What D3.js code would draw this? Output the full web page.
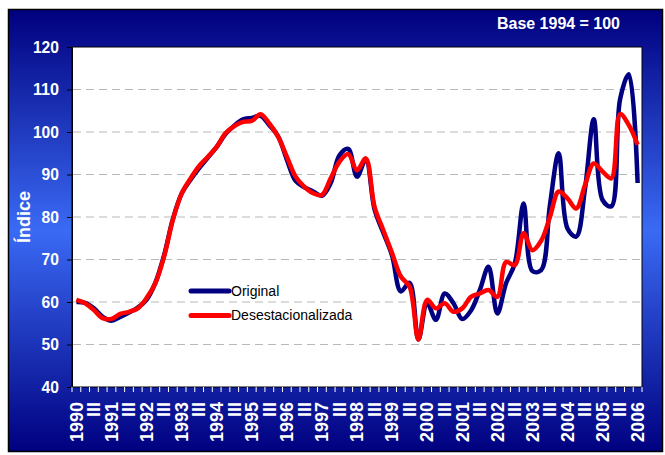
<!DOCTYPE html>
<html>
<head>
<meta charset="utf-8">
<script src="https://d3js.org/d3.v7.min.js"></script>
<style>
  body { margin: 0; background: #fff; }
  text { font-family: "Liberation Sans", Arial, sans-serif; }
</style>
</head>
<body>
<div id="graph"></div>
<script>
var years = [1990, 1991, 1992, 1993, 1994, 1995, 1996, 1997, 1998, 1999,
             2000, 2001, 2002, 2003, 2004, 2005, 2006];
var quarters = ["I", "II", "III", "IV"];

// quarterly values, 1990 I .. 2006 I
var original = [
    60, 59.8, 58.5, 56.5,
    55.6, 56.5, 57.5, 58.7,
    60.5, 64.5, 71, 79.5,
    85.5, 88.7, 91.5, 94,
    96.5, 99.5, 101.5, 103,
    103.3, 103.8, 101.6, 99,
    93.5, 88.5, 87, 86,
    85, 88, 94.5, 96,
    89.5, 93.5, 81.8, 76.3,
    70.9, 62.5, 64.5, 51.2,
    59.7, 55.8, 62, 59.7,
    56, 58, 62.8, 68.3,
    57.3, 64.4, 69.1, 83.2,
    67.3, 67.5, 82.8, 95,
    77.3, 75.4, 86.6, 103,
    84, 82.5, 107.7, 113.6,
    88
];
var desestacionalizada = [
    60.5, 59.7, 58.1, 56.2,
    56, 57.2, 57.7, 58.5,
    60.9, 64.4, 70.7, 79.3,
    85.5, 89, 92, 94.2,
    96.5, 99.7, 101.4, 102.4,
    102.6, 104.2, 102, 98.9,
    94.2, 89.5, 87.1, 85.6,
    85.2, 89.1, 93, 94.8,
    91, 93.8, 82.4, 76.9,
    71.5, 66, 63.6, 51.2,
    60.5, 58.5, 59.7, 57.7,
    58.5, 61.2, 62, 62.8,
    61.2, 69.4, 68.7, 76.2,
    72.2, 74.4, 80, 86,
    84.4, 82, 87.5, 92.6,
    90.7, 89.1, 104.2, 101.6,
    97
];
var yTicks = [40, 50, 60, 70, 80, 90, 100, 110, 120];

var categories = [];
years.forEach(function(yr) {
    quarters.forEach(function(q) {
        if (categories.length < original.length) categories.push({ year: yr, q: q });
    });
});

var width = 665, height = 455;
var margin = { top: 47, right: 23, bottom: 68, left: 72 };

var svg = d3.select("#graph").append("svg")
    .attr("width", width)
    .attr("height", height);

var defs = svg.append("defs");
var grad = defs.append("linearGradient")
    .attr("id", "bg")
    .attr("x1", 0).attr("y1", 0).attr("x2", 0).attr("y2", 1);
grad.append("stop").attr("offset", "0%").attr("stop-color", "#00007e");
grad.append("stop").attr("offset", "50%").attr("stop-color", "#3a6af4");
grad.append("stop").attr("offset", "100%").attr("stop-color", "#000080");

// frame
svg.append("rect")
    .attr("x", 8.5).attr("y", 9.5)
    .attr("width", 654).attr("height", 442)
    .attr("fill", "url(#bg)")
    .attr("stroke", "#000")
    .attr("stroke-width", 1.5);

var x = d3.scaleBand()
    .domain(d3.range(categories.length))
    .range([margin.left, width - margin.right])
    .padding(0);

var y = d3.scaleLinear()
    .domain([40, 120])
    .range([height - margin.bottom, margin.top]);

// plot area
svg.append("rect")
    .attr("x", margin.left).attr("y", margin.top)
    .attr("width", width - margin.left - margin.right)
    .attr("height", height - margin.top - margin.bottom)
    .attr("fill", "#fff")
    .attr("stroke", "#000")
    .attr("stroke-width", 1);

// grid
svg.append("g")
    .selectAll("line")
    .data(yTicks.filter(function(d) { return d > 40 && d < 120; }))
    .enter().append("line")
    .attr("x1", margin.left + 1)
    .attr("x2", width - margin.right - 1)
    .attr("y1", function(d) { return y(d); })
    .attr("y2", function(d) { return y(d); })
    .attr("stroke", "#b8b8b8")
    .attr("stroke-width", 1)
    .attr("stroke-dasharray", "8,5");

// y axis
var yAxis = svg.append("g")
    .attr("transform", "translate(" + margin.left + ",0)")
    .call(d3.axisLeft(y).tickValues(yTicks).tickSize(5).tickPadding(8));
yAxis.select(".domain").attr("stroke", "#000");
yAxis.selectAll(".tick line").attr("stroke", "#000");
yAxis.selectAll(".tick text")
    .attr("fill", "#fff")
    .attr("font-size", "17px")
    .attr("font-weight", "bold")
    .attr("textLength", function(d) { return String(d).length * 8.7; })
    .attr("lengthAdjust", "spacingAndGlyphs");

// x ticks at category boundaries
var xBase = height - margin.bottom;
var bounds = d3.range(categories.length + 1).map(function(i) {
    return i < categories.length ? x(i) : x(i - 1) + x.bandwidth();
});
svg.append("g")
    .selectAll("line")
    .data(bounds)
    .enter().append("line")
    .attr("x1", function(d) { return d; })
    .attr("x2", function(d) { return d; })
    .attr("y1", xBase)
    .attr("y2", xBase + 5)
    .attr("stroke", "#fff")
    .attr("stroke-width", 1);

// x labels
svg.append("g")
    .selectAll("text")
    .data(categories.filter(function(c) { return c.q === "I" || c.q === "III"; }))
    .enter().append("text")
    .attr("transform", function(c) {
        var i = categories.indexOf(c);
        return "translate(" + (x(i) + x.bandwidth() / 2) + "," + (xBase + 15) + ") rotate(-90)";
    })
    .attr("dy", "0.35em")
    .attr("text-anchor", "end")
    .attr("fill", "#fff")
    .attr("font-size", "18px")
    .attr("font-weight", "bold")
    .text(function(c) { return c.q === "I" ? c.year : "III"; });

var line = d3.line()
    .x(function(d, i) { return x(i) + x.bandwidth() / 2; })
    .y(function(d) { return y(d); })
    .curve(d3.curveCatmullRom.alpha(0.5));

svg.append("path")
    .datum(original)
    .attr("d", line)
    .attr("fill", "none")
    .attr("stroke", "#000080")
    .attr("stroke-width", 4.5)
    .attr("stroke-linejoin", "round");

svg.append("path")
    .datum(desestacionalizada)
    .attr("d", line)
    .attr("fill", "none")
    .attr("stroke", "#ff0000")
    .attr("stroke-width", 4.5)
    .attr("stroke-linejoin", "round");

// legend
var legend = [
    { name: "Original", color: "#000080" },
    { name: "Desestacionalizada", color: "#ff0000" }
];
var lg = svg.append("g").attr("transform", "translate(191,291)");
lg.selectAll("line")
    .data(legend)
    .enter().append("line")
    .attr("x1", 0).attr("x2", 38)
    .attr("y1", function(d, i) { return i * 24.5; })
    .attr("y2", function(d, i) { return i * 24.5; })
    .attr("stroke", function(d) { return d.color; })
    .attr("stroke-width", 5)
    .attr("stroke-linecap", "round");
lg.selectAll("text")
    .data(legend)
    .enter().append("text")
    .attr("x", 40)
    .attr("y", function(d, i) { return i * 24.5; })
    .attr("dy", "0.35em")
    .attr("font-size", "14px")
    .attr("fill", "#000")
    .text(function(d) { return d.name; });

// titles
svg.append("text")
    .attr("x", 620).attr("y", 29)
    .attr("text-anchor", "end")
    .attr("fill", "#fff")
    .attr("font-size", "17px")
    .attr("font-weight", "bold")
    .attr("textLength", 123)
    .attr("lengthAdjust", "spacingAndGlyphs")
    .text("Base 1994 = 100");

svg.append("text")
    .attr("transform", "translate(30," + ((margin.top + height - margin.bottom) / 2) + ") rotate(-90)")
    .attr("text-anchor", "middle")
    .attr("fill", "#fff")
    .attr("font-size", "18px")
    .attr("font-weight", "bold")
    .text("Índice");
</script>
</body>
</html>
